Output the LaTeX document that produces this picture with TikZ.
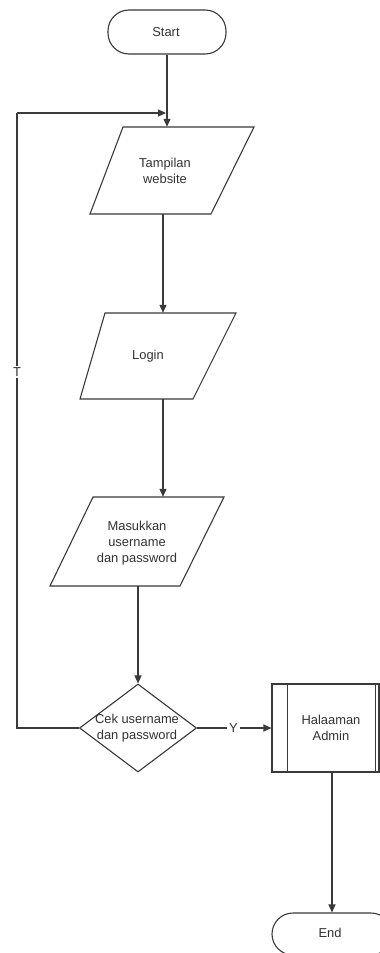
\documentclass[tikz,border=0pt]{standalone}
\usepackage{fontspec}
\setmainfont{Liberation Sans}
\usetikzlibrary{shapes.geometric,arrows.meta}
\definecolor{ink}{HTML}{3A3A3A}
\definecolor{txt}{HTML}{333333}
\tikzset{
  x=1pt, y=-1pt,
  every node/.style={font=\fontsize{12.9}{16.3}\selectfont, text=txt},
  outline/.style={draw=ink, line width=1.1pt},
  terminal/.style={outline, rectangle, rounded corners=21pt, inner sep=0pt},
  iobox/.style={rectangle, inner sep=0pt, align=center},
  decision/.style={outline, diamond, inner sep=0pt, minimum width=117pt, minimum height=88pt},
  process/.style={outline, rectangle, inner sep=0pt, minimum width=107pt, minimum height=88pt},
  label/.style={align=center, inner sep=0pt},
  tag/.style={fill=white, inner sep=2pt},
  flow/.style={draw=ink, line width=1.1pt, -{Triangle[length=8pt,width=7pt]}},
  wire/.style={draw=ink, line width=1.1pt}
}
\begin{document}
\begin{tikzpicture}
\useasboundingbox (0,0) rectangle (380,953);
\clip (0,0) rectangle (380,953);
\fill[white] (0,0) rectangle (380,953);

% terminals
\node[terminal, minimum width=118pt, minimum height=44pt] (start) at (167,32) {};
\node[label] (starttxt) at (166,32) {Start};

% input / output steps: slanted outlines around an anchor box
\node[iobox, minimum width=164pt, minimum height=87pt] (web) at (172,170.5) {};
\draw[outline] (123,127) -- (254,127) -- (211,214) -- (90,214) -- cycle;
\node[label] (webtxt) at (165,171) {Tampilan\\website};

\node[iobox, minimum width=156pt, minimum height=86pt] (login) at (158,356) {};
\draw[outline] (105,313) -- (236,313) -- (193,399) -- (80,399) -- cycle;
\node[label] (logintxt) at (148,356) {Login};

\node[iobox, minimum width=174pt, minimum height=89pt] (input) at (137,541.5) {};
\draw[outline] (93,497) -- (224,497) -- (180,586) -- (50,586) -- cycle;
\node[label] (inputtxt) at (137,543) {Masukkan\\username\\dan password};

% decision
\node[decision] (check) at (138,728) {};
\node[label] (checktxt) at (137,728) {Cek username\\dan password};

% predefined process
\node[process] (admin) at (325.5,728) {};
\draw[outline] ([xshift=16pt]admin.north west) -- ([xshift=16pt]admin.south west);
\draw[outline] ([xshift=-4pt]admin.north east) -- ([xshift=-4pt]admin.south east);
\node[label] (admintxt) at (331,728) {Halaaman\\Admin};

\node[terminal, minimum width=120pt, minimum height=42pt] (finish) at (332,934) {};
\node[label] (finishtxt) at (330,933) {End};

% connectors
\draw[flow] (start.south) -- (start.south |- web.north);
\draw[flow] ([xshift=-9pt]web.south) -- ([xshift=-9pt]web.south |- login.north);
\draw[flow] ([xshift=5pt]login.south) -- ([xshift=5pt]login.south |- input.north);
\draw[flow] (check.north |- input.south) -- (check.north);
\draw[flow] (check.east) -- node[tag, pos=0.49] (yes) {Y} (admin.west);
\draw[flow] (finish.north |- admin.south) -- (finish.north);

% loop back when the check fails
\coordinate (loop) at (17,113);
\draw[wire] (check.west) -| (loop);
\draw[flow] (loop) -- ([xshift=-1pt]start.south |- loop);
\node[tag] (no) at (17,372) {T};
\end{tikzpicture}
\end{document}
